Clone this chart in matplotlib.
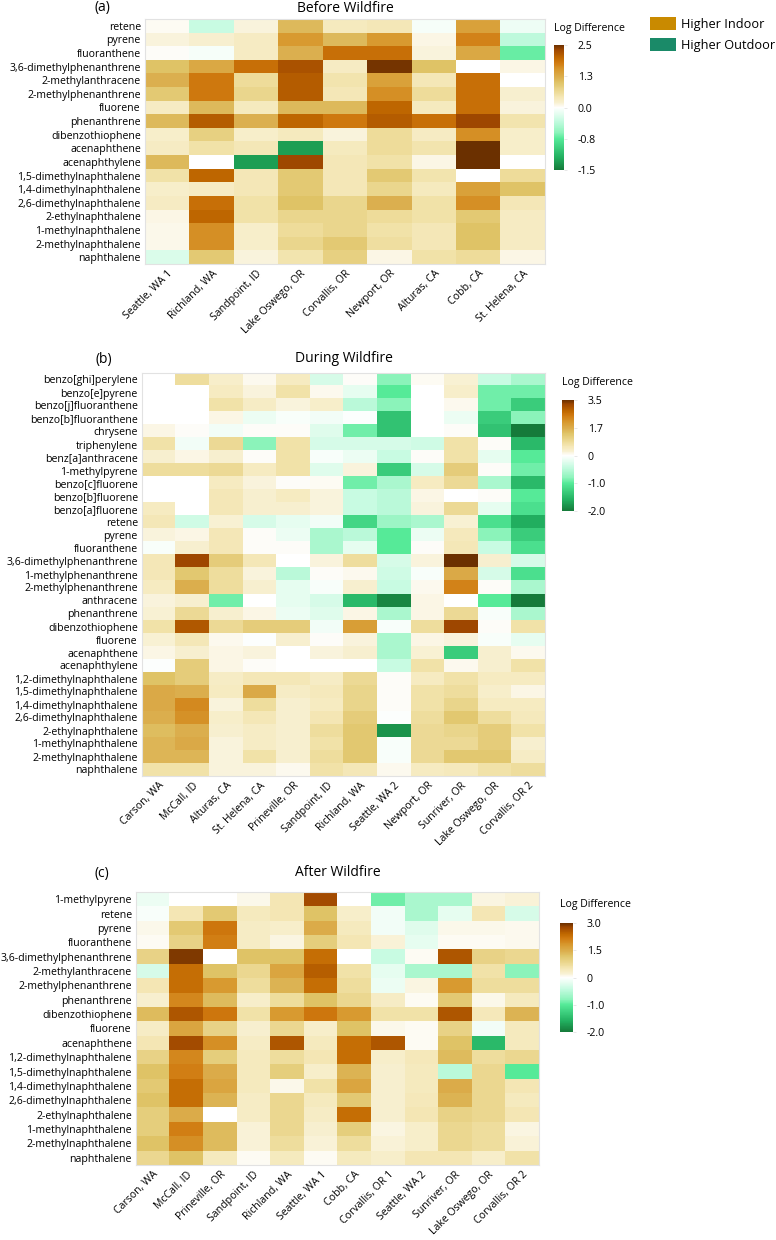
"""
Heatmaps de diferencia log interior/exterior — antes, durante y despues de incendios
"""

import numpy as np
import matplotlib
matplotlib.use('Agg')
import matplotlib.pyplot as plt
from matplotlib.colors import LinearSegmentedColormap, TwoSlopeNorm
from matplotlib.patches import Patch

plt.rcParams['font.family'] = ['Open Sans', 'DejaVu Sans']

nan = np.nan

# ══════════════════════════════════════════════
# 1. DATOS
# ══════════════════════════════════════════════

# (a) Antes del incendio
cols_a = ['Seattle, WA 1', 'Richland, WA', 'Sandpoint, ID', 'Lake Oswego, OR',
          'Corvallis, OR', 'Newport, OR', 'Alturas, CA', 'Cobb, CA', 'St. Helena, CA']
rows_a = ['retene', 'pyrene', 'fluoranthene', '3,6-dimethylphenanthrene',
          '2-methylanthracene', '2-methylphenanthrene', 'fluorene', 'phenanthrene',
          'dibenzothiophene', 'acenaphthene', 'acenaphthylene',
          '1,5-dimethylnaphthalene', '1,4-dimethylnaphthalene', '2,6-dimethylnaphthalene',
          '2-ethylnaphthalene', '1-methylnaphthalene', '2-methylnaphthalene', 'naphthalene']
vals_a = [
    [0.05, -0.3, 0.15, 1.1, 0.35, 0.4, -0.05, 1.4, -0.1],
    [0.15, 0.2, 0.3, 1.5, 1.1, 1.5, 0.1, 1.7, -0.35],
    [0.02, -0.05, 0.3, 1.2, 1.9, 1.9, 0.15, 1.3, -0.7],
    [1.0, 1.3, 1.9, 2.2, 0.3, 2.45, 1.0, nan, 0.1],
    [1.2, 1.8, 0.6, 2.1, 0.45, 1.4, 0.4, 1.9, nan],
    [0.9, 1.8, 0.7, 2.1, 0.4, 1.6, 0.6, 1.9, 0.2],
    [0.3, 1.1, 0.35, 1.1, 1.1, 2.0, 0.35, 1.9, 0.15],
    [1.1, 2.1, 1.2, 2.0, 1.8, 2.1, 1.9, 2.3, 0.45],
    [0.25, 0.8, 0.25, 0.35, 0.15, 0.6, 0.3, 1.6, 0.25],
    [0.3, 0.5, 0.4, -1.3, 0.35, 0.6, 0.45, 2.5, 0.25],
    [1.1, nan, -1.3, 2.3, 0.4, 0.5, 0.1, 2.5, nan],
    [0.5, 2.0, 0.4, 0.9, 0.4, 0.9, 0.45, nan, 0.6],
    [0.25, 0.3, 0.4, 0.9, 0.4, 0.7, 0.35, 1.4, 1.0],
    [0.3, 1.9, 0.5, 1.0, 0.7, 1.2, 0.5, 1.6, 0.4],
    [0.1, 2.0, 0.5, 0.7, 0.7, 0.6, 0.5, 0.9, 0.3],
    [0.08, 1.6, 0.25, 0.6, 0.7, 0.5, 0.4, 1.0, 0.3],
    [0.08, 1.6, 0.25, 0.7, 0.9, 0.55, 0.4, 1.0, 0.3],
    [-0.2, 0.9, 0.15, 0.45, 0.8, 0.1, 0.5, 0.6, 0.1],
]

# (b) Durante el incendio
cols_b = ['Carson, WA', 'McCall, ID', 'Alturas, CA', 'St. Helena, CA', 'Prineville, OR',
          'Sandpoint, ID', 'Richland, WA', 'Seattle, WA 2', 'Newport, OR', 'Sunriver, OR',
          'Lake Oswego, OR', 'Corvallis, OR 2']
rows_b = ['benzo[ghi]perylene', 'benzo[e]pyrene', 'benzo[j]fluoranthene',
          'benzo[b]fluoranthene', 'chrysene', 'triphenylene', 'benz[a]anthracene',
          '1-methylpyrene', 'benzo[c]fluorene', 'benzo[b]fluorene', 'benzo[a]fluorene',
          'retene', 'pyrene', 'fluoranthene', '3,6-dimethylphenanthrene',
          '1-methylphenanthrene', '2-methylphenanthrene', 'anthracene', 'phenanthrene',
          'dibenzothiophene', 'fluorene', 'acenaphthene', 'acenaphthylene',
          '1,2-dimethylnaphthalene', '1,5-dimethylnaphthalene', '1,4-dimethylnaphthalene',
          '2,6-dimethylnaphthalene', '2-ethylnaphthalene', '1-methylnaphthalene',
          '2-methylnaphthalene', 'naphthalene']
vals_b = [
    [nan, 0.8, 0.35, 0.1, 0.45, -0.3, 0.05, -0.8, 0.08, 0.25, -0.4, -0.6],
    [nan, nan, 0.45, 0.2, 0.7, 0.1, -0.2, -1.0, nan, 0.35, -0.9, -0.9],
    [nan, nan, 0.7, 0.4, 0.2, 0.35, -0.5, -0.8, nan, 0.1, -0.9, -1.3],
    [nan, nan, 0.15, -0.15, -0.05, -0.1, -0.02, -1.4, nan, -0.15, -1.3, -0.8],
    [0.15, 0.05, -0.1, 0.05, 0.05, -0.25, -0.9, -1.4, nan, 0.05, -1.4, -2.0],
    [0.7, -0.1, 0.9, -0.8, 0.7, -0.3, -0.3, -0.3, -0.35, 0.7, 0.05, -1.5],
    [0.3, 0.15, 0.3, 0.05, 0.7, -0.05, -0.15, -0.4, 0.05, 0.7, -0.2, -1.0],
    [0.8, 0.8, 0.9, 0.45, 0.7, -0.25, 0.2, -1.3, -0.3, 1.2, 0.05, -0.9],
    [nan, nan, 0.45, 0.2, 0.03, 0.08, -0.9, -0.6, 0.45, 0.9, -0.6, -1.5],
    [nan, nan, 0.55, 0.3, 0.45, 0.2, -0.4, -0.5, 0.15, nan, 0.05, -1.0],
    [0.45, nan, 0.55, 0.3, 0.3, 0.2, -0.4, -0.5, 0.2, 0.9, -0.2, -1.1],
    [0.55, -0.35, 0.25, -0.3, -0.2, -0.1, -1.2, -0.7, -0.6, 0.25, -1.1, -1.6],
    [0.2, 0.15, 0.55, 0.05, -0.15, -0.6, -0.5, -1.0, -0.15, 0.5, -0.8, -1.3],
    [-0.05, 0.3, 0.55, 0.05, 0.03, -0.6, -0.2, -1.0, 0.05, 0.55, -0.4, -1.1],
    [0.55, 3.2, 1.2, 0.55, nan, 0.2, 0.8, -0.3, 0.2, 3.5, 0.3, -0.3],
    [0.55, 1.3, 0.8, 0.2, -0.5, 0.03, 0.1, -0.35, -0.05, 1.8, -0.3, -1.1],
    [0.45, 1.7, 0.8, 0.3, -0.2, -0.05, 0.3, -0.4, 0.1, 2.4, 0.05, -0.6],
    [0.2, 0.3, -0.9, nan, -0.2, -0.3, -1.5, -1.9, 0.15, nan, -1.0, -2.0],
    [0.25, 0.9, 0.3, 0.15, -0.15, -0.25, 0.15, -0.6, 0.15, 0.9, -0.05, -0.6],
    [0.7, 3.0, 0.9, 1.2, 1.2, -0.1, 2.0, -0.05, 0.8, 3.2, 0.05, 0.7],
    [0.25, 0.55, 0.1, -0.02, 0.3, 0.05, 0.2, -0.6, 0.15, 0.2, -0.05, -0.2],
    [0.15, 0.3, 0.15, 0.2, nan, 0.2, 0.3, -0.6, 0.25, -1.3, 0.3, 0.1],
    [-0.02, 1.2, 0.15, 0.05, nan, nan, nan, -0.4, 0.7, 0.1, 0.3, 0.7],
    [1.4, 1.2, 0.4, 0.55, 0.55, 0.4, 0.9, 0.05, 0.45, 0.7, 0.45, 0.45],
    [1.8, 1.7, 0.45, 1.8, 0.4, 0.5, 1.0, 0.05, 0.7, 0.8, 0.35, 0.15],
    [1.8, 2.3, 0.2, 0.8, 0.3, 0.45, 1.0, 0.05, 0.7, 1.0, 0.45, 0.45],
    [1.7, 2.2, 0.35, 0.55, 0.3, 0.6, 1.2, -0.03, 0.8, 1.3, 0.8, 0.5],
    [1.5, 1.7, 0.3, 0.4, 0.3, 0.8, 1.3, -1.8, 0.9, 1.0, 1.2, 0.7],
    [1.6, 1.8, 0.2, 0.4, 0.3, 0.7, 1.3, -0.05, 0.9, 0.9, 1.2, 0.3],
    [1.6, 1.6, 0.2, 0.7, 0.3, 0.8, 1.3, -0.05, 0.9, 1.3, 1.3, 0.4],
    [0.7, 0.7, 0.2, 0.2, 0.1, 0.7, 0.55, 0.1, 0.45, 0.5, 0.7, 0.8],
]

# (c) Despues del incendio
cols_c = ['Carson, WA', 'McCall, ID', 'Prineville, OR', 'Sandpoint, ID', 'Richland, WA',
          'Seattle, WA 1', 'Cobb, CA', 'Corvallis, OR 1', 'Seattle, WA 2', 'Sunriver, OR',
          'Lake Oswego, OR', 'Corvallis, OR 2']
rows_c = ['1-methylpyrene', 'retene', 'pyrene', 'fluoranthene', '3,6-dimethylphenanthrene',
          '2-methylanthracene', '2-methylphenanthrene', 'phenanthrene', 'dibenzothiophene',
          'fluorene', 'acenaphthene', '1,2-dimethylnaphthalene', '1,5-dimethylnaphthalene',
          '1,4-dimethylnaphthalene', '2,6-dimethylnaphthalene', '2-ethylnaphthalene',
          '1-methylnaphthalene', '2-methylnaphthalene', 'naphthalene']
vals_c = [
    [-0.15, nan, nan, 0.1, 0.5, 2.7, nan, -0.9, -0.6, -0.6, 0.15, 0.2],
    [-0.05, 0.5, 1.1, 0.4, 0.5, 1.2, 0.3, -0.1, -0.6, -0.2, 0.5, -0.3],
    [0.1, 1.1, 2.2, 0.35, 0.3, 1.5, 0.4, -0.1, -0.25, 0.1, 0.1, 0.08],
    [0.05, 0.9, 2.1, 0.35, 0.15, 1.0, 0.5, 0.2, -0.2, 0.05, 0.05, 0.08],
    [0.9, 2.9, nan, 1.2, 1.2, 2.3, nan, -0.4, 0.05, 2.6, 0.9, 0.8],
    [-0.3, 2.3, 1.2, 0.8, 1.6, 2.5, 0.6, -0.2, -0.6, -0.6, 0.6, -0.8],
    [0.5, 2.3, 1.8, 0.7, 1.4, 2.3, 0.7, -0.15, 0.15, 1.8, 0.7, 0.7],
    [0.25, 2.0, 1.3, 0.3, 0.7, 1.2, 0.8, 0.35, 0.05, 1.1, 0.1, 0.4],
    [1.3, 2.6, 2.2, 0.6, 1.8, 2.2, 1.8, 0.6, 0.6, 2.6, 0.45, 1.4],
    [0.35, 1.6, 0.9, 0.25, 0.8, 0.3, 1.2, 0.1, 0.05, 0.9, -0.1, 0.4],
    [0.5, 2.7, 1.9, 0.35, 2.6, 0.4, 2.3, 2.6, 0.05, 1.2, -1.5, 0.4],
    [0.9, 2.0, 1.0, 0.4, 0.7, 0.5, 2.3, 0.3, 0.45, 1.3, 0.7, 0.8],
    [1.2, 2.1, 1.5, 0.4, 1.0, 0.3, 1.4, 0.25, 0.4, -0.5, 0.8, -1.0],
    [1.1, 2.3, 1.6, 0.4, 0.1, 0.6, 1.6, 0.25, 0.4, 1.5, 0.8, 0.5],
    [1.2, 2.3, 1.4, 0.35, 0.8, 0.4, 1.1, 0.25, 0.45, 1.4, 0.8, 0.4],
    [1.0, 1.5, nan, 0.35, 0.8, 0.35, 2.3, 0.25, 0.5, 0.9, 0.8, 0.5],
    [1.0, 2.1, 1.3, 0.2, 0.8, 0.25, 1.0, 0.15, 0.3, 0.8, 0.7, 0.15],
    [1.2, 1.9, 1.3, 0.2, 0.7, 0.2, 0.7, 0.2, 0.3, 0.8, 0.7, 0.2],
    [0.8, 1.2, 0.4, 0.05, 0.4, 0.05, 0.4, 0.3, 0.5, 0.5, 0.3, 0.6],
]

# ══════════════════════════════════════════════
# 2. ESTILO
# ══════════════════════════════════════════════

W, H = 776, 1240
FS = 7.6

nodos = [0.0, 0.1, 0.25, 0.3, 0.4, 0.45, 0.5, 0.54, 0.58, 0.62, 0.70, 0.74, 0.80, 0.86, 0.90, 0.96, 1.0]
tonos = ['#157a3a', '#22b060', '#55ea98', '#8ef4bc', '#c8fbe2', '#e6fdf0', '#ffffff',
         '#f8f0d0', '#f5e8b8', '#eedc9a', '#e0c468', '#dcb050', '#d89a30', '#d07a10',
         '#c06800', '#a04800', '#6b3000']
cmap = LinearSegmentedColormap.from_list('logdiff', list(zip(nodos, tonos)))
cmap.set_bad('white')


def caja(x0, y0, x1, y1):
    # pixeles -> fraccion de figura
    return [x0 / W, 1 - y1 / H, (x1 - x0) / W, (y1 - y0) / H]


def panel(fig, vals, filas, cols, hm, cb, vmin, vmax, ticks, etiquetas,
          titulo, letra, y_tit, x_letra, y_log):
    ax = fig.add_axes(caja(*hm))
    cax = fig.add_axes(caja(*cb))
    norm = TwoSlopeNorm(vcenter=0, vmin=vmin, vmax=vmax)
    im = ax.imshow(np.array(vals, dtype=float), cmap=cmap, norm=norm,
                   aspect='auto', interpolation='nearest')
    ax.set_xticks(range(len(cols)))
    ax.set_xticklabels(cols, rotation=45, ha='right', rotation_mode='anchor', fontsize=FS)
    ax.set_yticks(range(len(filas)))
    ax.set_yticklabels(filas, fontsize=FS)
    ax.tick_params(length=0, pad=3)
    for s in ax.spines.values():
        s.set_color('#e2e2e2')
        s.set_linewidth(0.8)

    barra = fig.colorbar(im, cax=cax, ticks=ticks)
    barra.ax.set_yticklabels(etiquetas, fontsize=FS)
    barra.ax.tick_params(length=2, width=0.5, color='#dddddd', pad=8)
    barra.outline.set_visible(False)

    cx = (hm[0] + hm[2]) / 2
    fig.text(cx / W, 1 - y_tit / H, titulo, ha='center', va='center', fontsize=10)
    fig.text(x_letra / W, 1 - y_tit / H, letra, ha='center', va='center', fontsize=10)
    fig.text(cb[0] / W, 1 - y_log / H, 'Log Difference', ha='left', va='center', fontsize=FS)


# ══════════════════════════════════════════════
# 3. FIGURA
# ══════════════════════════════════════════════

fig = plt.figure(figsize=(W / 100, H / 100), dpi=100)

panel(fig, vals_a, rows_a, cols_a, (145, 19, 545, 264), (554, 45, 564, 170),
      -1.5, 2.5, [-1.5, -0.75, 0, 1.25, 2.5], ['-1.5', '-0.8', '0.0', '1.3', '2.5'],
      'Before Wildfire', '(a)', 8, 102, 29)

panel(fig, vals_b, rows_b, cols_b, (142, 373, 545, 776), (562, 400, 574, 511),
      -2.0, 3.5, [-2.0, -1.0, 0, 1.75, 3.5], ['-2.0', '-1.0', '0', '1.7', '3.5'],
      'During Wildfire', '(b)', 359, 104, 383)

panel(fig, vals_c, rows_c, cols_c, (136, 892, 539, 1165), (560, 923, 573, 1032),
      -2.0, 3.0, [-2.0, -1.0, 0, 1.5, 3.0], ['-2.0', '-1.0', '0', '1.5', '3.0'],
      'After Wildfire', '(c)', 873, 102, 904)

# Leyenda
handles = [Patch(facecolor='#c98a00', label='Higher Indoor'),
           Patch(facecolor='#1a8a68', label='Higher Outdoor')]
fig.legend(handles=handles, loc='upper left', bbox_to_anchor=(645 / W, 1 - 12 / H),
           frameon=False, fontsize=9.2, handlelength=2.0, handleheight=1.2,
           handletextpad=0.4, labelspacing=0.55, borderaxespad=0)

fig.savefig('out.png', dpi=100)
